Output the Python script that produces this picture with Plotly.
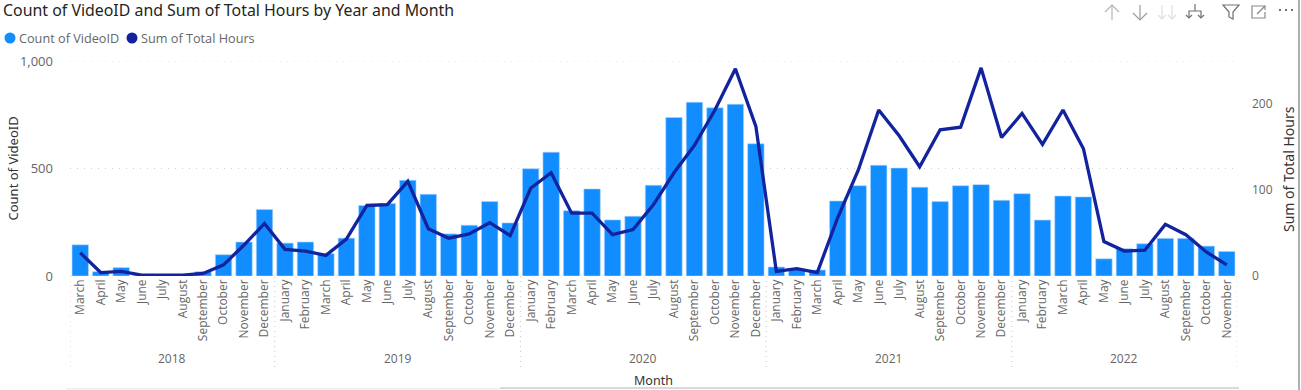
import plotly.graph_objects as go

years = ["2018"]*10 + ["2019"]*12 + ["2020"]*12 + ["2021"]*12 + ["2022"]*11
all_months = ["January","February","March","April","May","June","July","August","September","October","November","December"]
months = all_months[2:] + all_months + all_months + all_months + all_months[:11]
video_count = [145,20,39,2,2,2,20,99,158,309,
               153,158,104,176,328,337,445,380,196,236,346,247,
               499,576,304,405,261,278,422,737,808,782,799,615,
               42,31,28,349,420,515,502,413,346,420,425,352,
               383,260,372,368,80,127,150,175,175,139,114]
total_hours = [27,4,5.4,1,1,1,3,13,36,61,
               31,29,24,43,82,83,110,55,44,49,62,47,
               102,120,73,73,48,54,83,120,152,193,241,174,
               5.4,8.5,4,68,123,193,163,127,170,173,242,161,
               189,153,193,148,40,29,30,60,48,28,13]
BAR = "#118DFF"
LINE = "#12239E"
GREY = "#666666"
DARK = "#333333"
GRID = "#CFCFCF"
LABEL_FONT = "Open Sans"
TITLE_FONT = "Noto Sans"

W, H = 1301, 390
L, R, T, B = 70, 1237, 61, 276
def px(v): return (v - L) / (R - L)
def py(v): return (B - v) / (B - T)
def icon(points, color, width=1.2, dash=None, closed=False):
    d = "M " + " L ".join(f"{px(a):.5f} {py(b):.5f}" for a, b in points) + (" Z" if closed else "")
    line = dict(color=color, width=width)
    if dash:
        line["dash"] = dash
    return dict(type="path", xref="paper", yref="paper", path=d, line=line)

idx = list(range(len(months)))
fig = go.Figure()
fig.add_trace(go.Bar(x=idx, y=video_count, marker=dict(color=BAR, line=dict(color="#A9D4FF", width=0.6)),
                     showlegend=False, yaxis="y"))
fig.add_trace(go.Scatter(x=idx, y=total_hours, mode="lines", line=dict(color=LINE, width=3.3),
                         showlegend=False, yaxis="y2"))

groups = []
for i, y in enumerate(years):
    if not groups or groups[-1][0] != y:
        groups.append([y, i, i])
    groups[-1][2] = i

shapes = []
annotations = []
DIV = dict(color="#C8C8C8", width=1, dash="1px,4px")
for y, a, b in groups:
    annotations.append(dict(text=y, xref="x", yref="paper", x=(a + b) / 2, y=py(358), yanchor="middle",
                            xanchor="center", showarrow=False, font=dict(size=12, color=GREY)))
    shapes.append(dict(type="line", xref="x", yref="paper", x0=a - 0.5, x1=a - 0.5, y0=py(276), y1=py(368), line=DIV))
shapes.append(dict(type="line", xref="x", yref="paper", x0=len(idx) - 0.5, x1=len(idx) - 0.5,
                   y0=py(276), y1=py(368), line=DIV))

# dotted grid at the two range ends
for val in (0, 1000):
    shapes.append(dict(type="line", xref="paper", yref="y", x0=0, x1=1, y0=val, y1=val, layer="below",
                       line=dict(color=GRID, width=1, dash="1px,6px")))

# legend
for cx, col, label, tx in [(10, BAR, "Count of VideoID", 17), (132, LINE, "Sum of Total Hours", 139)]:
    shapes.append(dict(type="circle", xref="paper", yref="paper", x0=px(cx - 5.5), x1=px(cx + 5.5),
                       y0=py(38 + 5.5), y1=py(38 - 5.5), fillcolor=col, line=dict(width=0)))
    annotations.append(dict(text=label, xref="paper", yref="paper", x=px(tx), y=py(38), xanchor="left",
                            yanchor="middle", showarrow=False, font=dict(size=12.7, color=GREY)))

# axis titles
annotations += [
    dict(text="Month", xref="paper", yref="paper", x=px(653), y=py(380.5), xanchor="center", yanchor="middle",
         showarrow=False, font=dict(family=TITLE_FONT, size=12.5, color=DARK)),
    dict(text="Count of VideoID", xref="paper", yref="paper", x=px(12.5), y=py(169), xanchor="center", yanchor="middle",
         textangle=-90, showarrow=False, font=dict(family=TITLE_FONT, size=13, color=DARK)),
    dict(text="Sum of Total Hours", xref="paper", yref="paper", x=px(1288), y=py(169), xanchor="center", yanchor="middle",
         textangle=-90, showarrow=False, font=dict(family=TITLE_FONT, size=14, color=DARK)),
]

# toolbar icons
C1, C2, C3, C4 = "#B4B4B4", "#9A9A9A", "#DEDEDE", "#707070"
shapes += [
    icon([(1112, 20), (1112, 5)], C1), icon([(1105, 12), (1112, 5), (1119, 12)], C1),
    icon([(1140, 5), (1140, 20)], C2), icon([(1133, 13), (1140, 20), (1147, 13)], C2),
    icon([(1162, 5), (1162, 19)], C3), icon([(1158, 15), (1162, 19), (1166, 15)], C3),
    icon([(1172, 5), (1172, 19)], C3), icon([(1168, 15), (1172, 19), (1176, 15)], C3),
    icon([(1195, 4), (1195, 11)], C4), icon([(1189, 18), (1189, 11), (1201, 11), (1201, 18)], C4),
    icon([(1186, 15), (1189, 18), (1192, 15)], C4), icon([(1198, 15), (1201, 18), (1204, 15)], C4),
    icon([(1223, 5), (1239, 5), (1233, 12), (1233, 19), (1229, 17), (1229, 12)], C4, closed=True),
    icon([(1261, 6), (1252, 6), (1252, 18), (1265, 18), (1265, 12)], "#8A8A8A"),
    icon([(1257, 14), (1265, 6)], "#8A8A8A"), icon([(1261, 6), (1265, 6), (1265, 10)], "#8A8A8A"),
    icon([(1279, 10), (1293, 10)], C4, width=2, dash="2px,4px"),
]

# frame lines
shapes += [
    dict(type="line", xref="paper", yref="paper", x0=px(66), x1=px(500), y0=py(389), y1=py(389),
         line=dict(color="#E4E4E4", width=1)),
    dict(type="line", xref="paper", yref="paper", x0=px(500), x1=px(1239), y0=py(388), y1=py(388),
         line=dict(color="#B5B5B5", width=1)),
    dict(type="line", xref="paper", yref="paper", x0=px(1299), x1=px(1299), y0=py(0), y1=py(390),
         line=dict(color="#B0B0B0", width=2)),
]

fig.update_layout(
    width=W, height=H, autosize=False,
    margin=dict(l=L, r=W - R, t=T, b=H - B),
    paper_bgcolor="white", plot_bgcolor="white",
    bargap=0.2, showlegend=False,
    font=dict(family=LABEL_FONT, color=GREY, size=12),
    title=dict(text="Count of VideoID and Sum of Total Hours by Year and Month",
               x=3 / W, xanchor="left", y=1 - 10 / H, yanchor="middle",
               font=dict(family=TITLE_FONT, size=15.9, color="#252423")),
    xaxis=dict(range=[-0.5, len(idx) - 0.5], tickmode="array", tickvals=idx, ticktext=months, tickangle=-90,
               tickfont=dict(size=12, color=GREY), showgrid=False, showline=False, zeroline=False, ticks=""),
    yaxis=dict(range=[0, 1000], tickvals=[0, 500, 1000], ticktext=["0", "500", "1,000"],
               gridcolor=GRID, griddash="1px,6px", gridwidth=1, zeroline=False,
               tickfont=dict(size=13, color=GREY), ticks="", ticklabelstandoff=16),
    yaxis2=dict(range=[0, 250], tickvals=[0, 100, 200], overlaying="y", side="right",
                showgrid=False, zeroline=False, tickfont=dict(size=12, color=GREY), ticklabelstandoff=14),
    annotations=annotations,
    shapes=shapes,
)
fig.write_html("out.html", config=dict(displayModeBar=False), post_script="document.body.style.margin='0'")
